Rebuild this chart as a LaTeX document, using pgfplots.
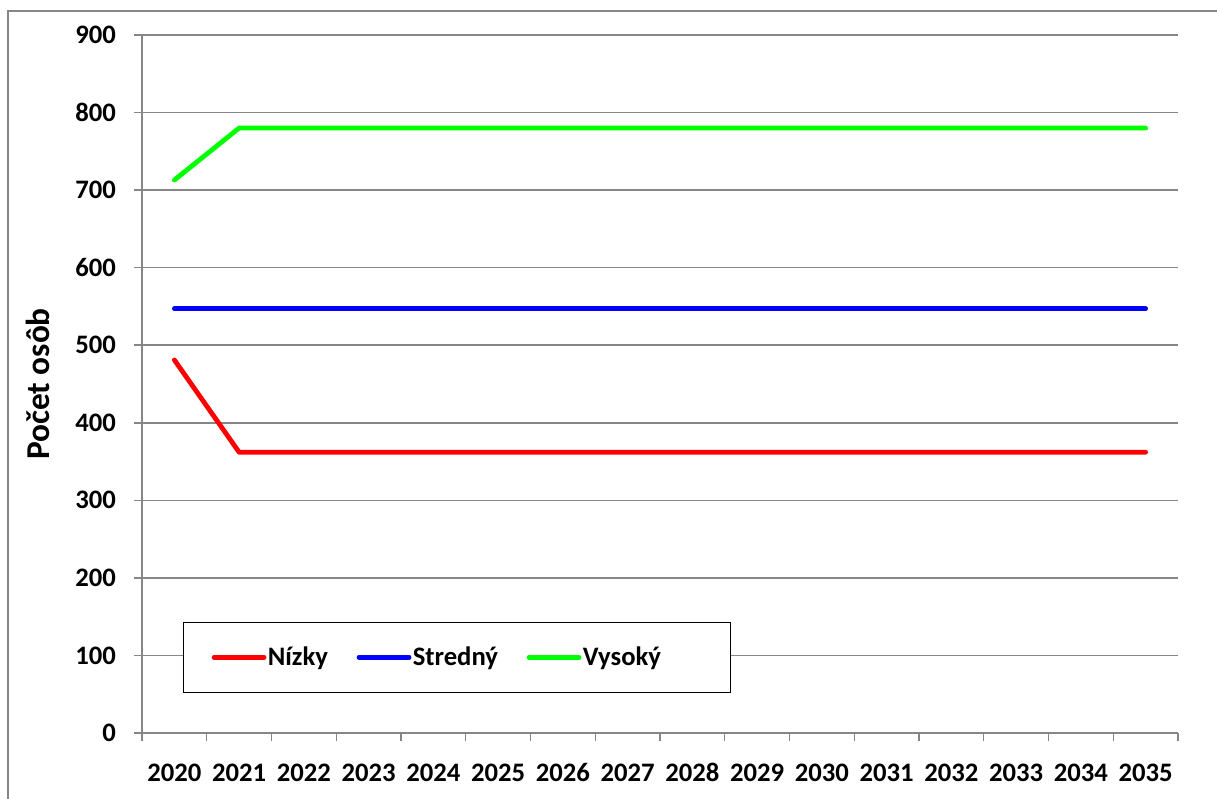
\documentclass[border=0pt]{standalone}
\usepackage{pgfplots}
\pgfplotsset{compat=1.18}
\usepackage{fontspec}
\setmainfont{Carlito}
\definecolor{gridgray}{RGB}{134,134,134}
\definecolor{xlred}{RGB}{255,0,0}
\definecolor{xlblue}{RGB}{0,0,255}
\definecolor{xlgreen}{RGB}{0,255,0}
\pgfplotstableread{
x nizky stredny vysoky
0 481 547 713
1 362 547 780
2 362 547 780
3 362 547 780
4 362 547 780
5 362 547 780
6 362 547 780
7 362 547 780
8 362 547 780
9 362 547 780
10 362 547 780
11 362 547 780
12 362 547 780
13 362 547 780
14 362 547 780
15 362 547 780
}\datatable
\begin{document}
\begin{tikzpicture}
\path[use as bounding box] (0pt,0pt) rectangle (912.75pt,599.25pt);
\draw[gridgray, line width=1.1pt] (6pt,0pt) -- (6pt,591pt) -- (912.75pt,591pt);
\begin{axis}[
  at={(106.5pt,49.5pt)}, anchor=south west,
  scale only axis, width=777pt, height=523.5pt,
  xmin=-0.5, xmax=15.5, ymin=0, ymax=900,
  axis x line=bottom, axis y line=left,
  axis line style={gridgray, line width=1.1pt, -},
  xtick={0,...,15},
  xticklabels={2020,2021,2022,2023,2024,2025,2026,2027,2028,2029,2030,2031,2032,2033,2034,2035},
  major x tick style={draw=none},
  minor xtick={-0.5,0.5,...,15.5},
  minor tick length=6pt,
  minor x tick style={gridgray, line width=1.1pt},
  ytick={0,100,...,900},
  ymajorgrids,
  major grid style={gridgray, line width=1.1pt},
  major y tick style={gridgray, line width=1.1pt},
  tick align=outside, major tick length=6pt,
  tick label style={font=\bfseries\fontsize{20}{22}\selectfont},
  /pgf/number format/assume math mode=true,
  xticklabel style={anchor=north, text height=13pt, text depth=0pt, yshift=-14pt},
  yticklabel style={xshift=-10pt},
  ylabel={Počet osôb},
  ylabel style={at={(rel axis cs:-0.1004,0.5)}, anchor=center, font=\bfseries\fontsize{25}{27}\selectfont},
  legend columns=3,
  legend image code/.code={\draw[#1] (0pt,0pt) -- (37.5pt,0pt);},
  legend style={at={(rel axis cs:0.0396,0.0573)}, anchor=south west,
    draw=black, line width=1pt, inner xsep=21pt, inner ysep=15.5pt,
    font=\bfseries\fontsize{20}{22}\selectfont,
    nodes={inner xsep=1pt, inner ysep=3pt},
    /tikz/every even column/.append style={column sep=20.5pt}},
  every axis plot/.append style={line width=3.6pt, line cap=round, line join=round},
]
\addplot[xlred] table[x=x, y=nizky] {\datatable};
\addplot[xlblue] table[x=x, y=stredny] {\datatable};
\addplot[xlgreen] table[x=x, y=vysoky] {\datatable};
\legend{Nízky, Stredný, Vysoký\rule{30pt}{0pt}}
\end{axis}
\end{tikzpicture}
\end{document}
